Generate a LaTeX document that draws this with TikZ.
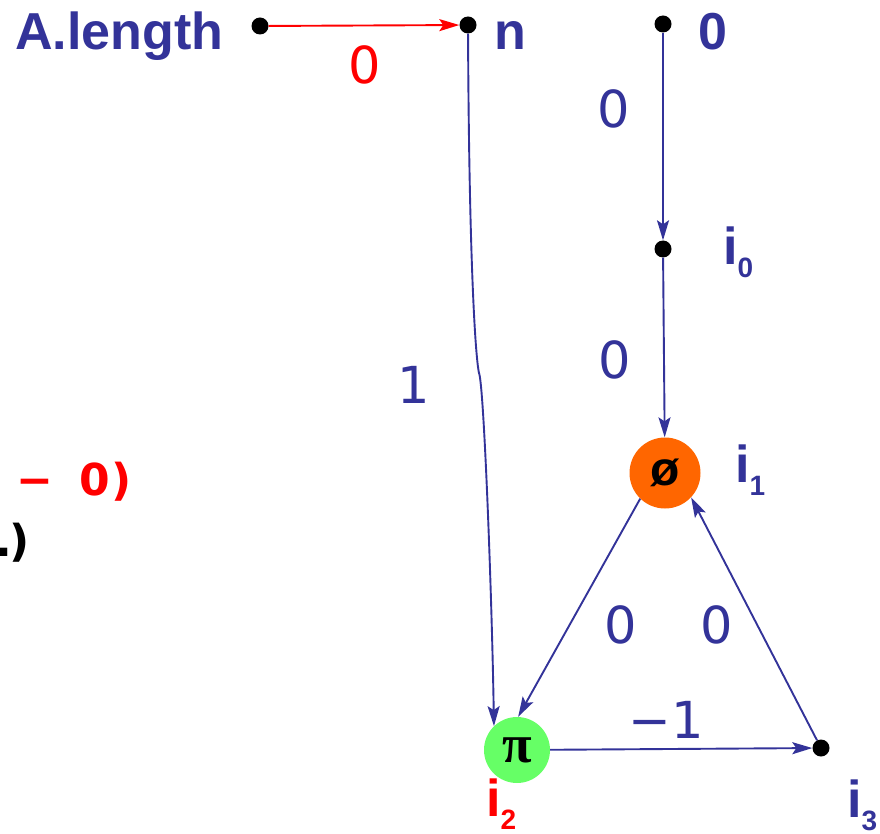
\documentclass[tikz,border=0pt]{standalone}
\usepackage{fontspec}
\setmainfont{Liberation Sans}
\newfontfamily\edgefont{DejaVu Sans}
\newfontfamily\symfont{Liberation Serif}
\usetikzlibrary{arrows.meta}
\definecolor{nblue}{HTML}{333399}
\definecolor{nred}{HTML}{FF0000}
\definecolor{phiorange}{HTML}{FF6600}
\definecolor{pigreen}{HTML}{66FF66}
\newcommand\vsub[1]{\raisebox{-13pt}{\fontsize{28}{30}\selectfont #1}}
\newcommand\mc[1]{\makebox[30pt]{#1}}
\begin{document}
\begin{tikzpicture}[x=1pt,y=-1pt,
  dot/.style={circle,fill=black,inner sep=0pt,minimum size=17pt},
  bignode/.style={circle,inner sep=0pt},
  conn/.style={line width=1.9pt,draw=nblue,-{Stealth[length=20pt,width=12pt,inset=4pt]}},
  vlabel/.style={text=nblue,inner sep=0pt,font=\fontsize{52}{60}\selectfont\bfseries},
  elabel/.style={text=nblue,inner sep=0pt,font=\edgefont\fontsize{51}{60}\selectfont},
  code/.style={inner sep=0pt,font=\edgefont\fontsize{44}{60}\selectfont\bfseries}]
\useasboundingbox (0,0) rectangle (880,834);
% points and vertices
\node[dot] (alen) at (260,26) {};
\node[dot] (n) at (468,25) {};
\node[dot] (top) at (663,24) {};
\node[dot] (i0) at (663,249) {};
\node[dot] (i3) at (821,748) {};
\node[bignode,fill=phiorange,minimum size=71pt] (phi) at (665,473) {\fontsize{48}{48}\selectfont\bfseries ø};
\node[bignode,fill=pigreen,minimum size=66pt] (pi) at (517,750) {\symfont\fontsize{54}{54}\selectfont\bfseries π};
% vertex labels
\node[vlabel,anchor=base west] (lalen) at (15,50) {A.length};
\node[vlabel,anchor=base west] (ln) at (494,50) {n};
\node[vlabel,anchor=base] (ltop) at (713,50) {0};
\node[vlabel,anchor=base west] (li0) at (723,265) {i\vsub{0}};
\node[vlabel,anchor=base west] (li1) at (735,482) {i\vsub{1}};
\node[vlabel,anchor=base west,text=nred] (li2) at (486,816) {i\vsub{2}};
\node[vlabel,anchor=base west] (li3) at (847,817) {i\vsub{3}};
% edge labels
\node[elabel,text=nred,anchor=base] (e1) at (365,84) {0};
\node[elabel,anchor=base] (e2) at (614,128) {0};
\node[elabel,anchor=base] (e3) at (615,378) {0};
\node[elabel,anchor=base] (e4) at (414,403) {1};
\node[elabel,anchor=base] (e5) at (621,643) {0};
\node[elabel,anchor=base] (e6) at (717,643) {0};
\node[elabel,anchor=base] (e7) at (666,738) {−1};
% clipped code fragments
\begin{scope}
\clip (0,0) rectangle (880,834);
\node[code,text=nred,anchor=base east] (c1) at (134,495) {\mc{−}\mc{ }\mc{0}\makebox[24pt]{)}};
\node[code,anchor=base east] (c2) at (32,556) {\makebox[8pt]{.}\makebox[24pt]{)}};
\end{scope}
% connectors
\draw[conn,draw=nred] (alen) -- (n);
\draw[conn] (top) -- (i0);
\draw[conn] (i0) -- (phi);
\draw[conn] (n) .. controls (469,250) and (475,355) .. (479,373) .. controls (484,385) and (492,600) .. (pi.134);
\draw[conn] (phi.226) -- (pi.88);
\draw[conn] (i3) -- (phi.317);
\draw[conn] (pi) -- (i3);
\end{tikzpicture}
\end{document}
